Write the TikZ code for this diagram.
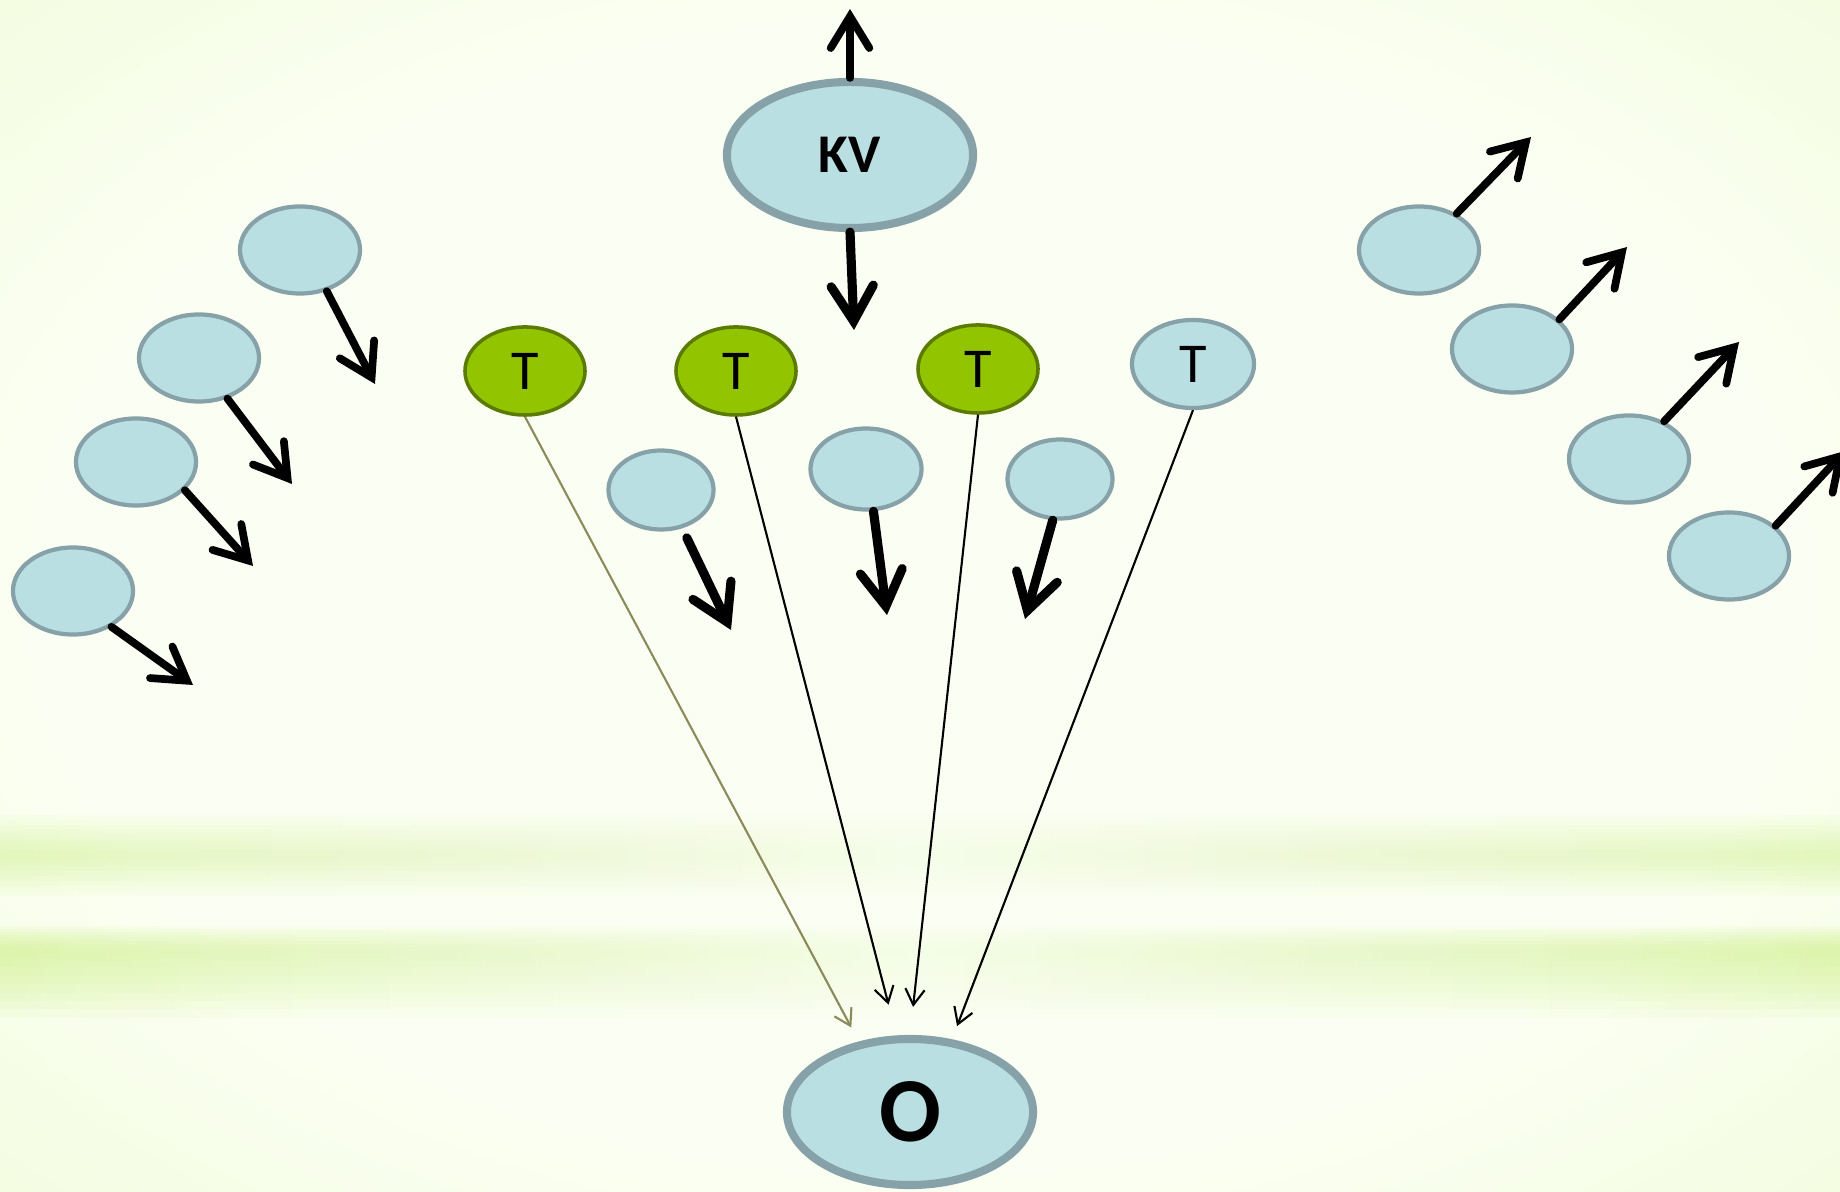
\documentclass[tikz,border=0pt]{standalone}
\usepackage{fontspec}
\setmainfont{Carlito}
\usepackage{tikz}
\usetikzlibrary{shapes.geometric,arrows.meta}

\definecolor{bgcenter}{HTML}{FBFFF3}
\definecolor{bgedge}{HTML}{DCF5A8}
\definecolor{bandgreen}{HTML}{CDF285}
\definecolor{blobfill}{HTML}{B9DFE3}
\definecolor{blobline}{HTML}{86A2A8}
\definecolor{tgreen}{HTML}{93C400}
\definecolor{tgreenline}{HTML}{5B7A00}
\definecolor{olivegray}{HTML}{8A8A5A}

\pgfdeclareradialshading{bgglow}{\pgfpoint{0bp}{0bp}}{color(0bp)=(bgcenter); color(24bp)=(bgcenter); color(72bp)=(bgedge); color(75bp)=(bgedge)}

\begin{document}
\begin{tikzpicture}[
		x=0.01cm, y=-0.01cm,
		blob/.style={ellipse,fill=blobfill,draw=blobline,line width=1.2pt,inner sep=0pt,minimum width=1.2cm,minimum height=0.87cm},
		small/.style={blob,minimum width=1.05cm,minimum height=0.79cm},
		big/.style={blob,line width=2.3pt,minimum width=2.46cm,minimum height=1.46cm},
		term/.style={blob,minimum width=1.22cm,minimum height=0.88cm,font=\fontsize{16}{18}\selectfont},
		hit/.style={term,fill=tgreen,draw=tgreenline,line width=1pt,minimum width=1.2cm},
		push/.style={line width=2.2pt,line cap=round,-{Straight Barb[length=9pt,width=11pt,line cap=round]}},
		plunge/.style={push,line width=2.6pt,-{Straight Barb[length=10pt,width=12pt,line cap=round]}},
		feed/.style={line width=0.6pt,-{Straight Barb[length=4.5pt,width=5.5pt]}},
		band/.style={left color=bandgreen,right color=bandgreen,middle color=bandgreen!15!bgcenter}
		]
		\useasboundingbox (0,0) rectangle (1840,1192);

		% background
		\shade[shading=bgglow] (0,0) rectangle (1840,1192);
		\foreach \d in {5,10,...,40}
			\shade[band,opacity=0.07] (0,855-\d) rectangle (1840,855+\d);
		\foreach \d in {6,12,...,48}
			\shade[band,opacity=0.1] (0,950-\d/2) rectangle (1840,950+\d*1.4);

		\path (850,155) node[big,font=\bfseries\fontsize{15.5}{18}\selectfont] (key val) {KV}
		 (910,1112) node[big,font=\bfseries\fontsize{26}{30}\selectfont] (out) {O};
		\coordinate (kv top) at (850,9);
		\coordinate (kv bottom) at (854,330);
		\draw[push] (key val.north) -- (kv top);
		\draw[plunge] (key val.south) -- (kv bottom);

		\path (525,371) node[hit] (term 1) {T}
		 ++(211,0) node[hit] (term 2) {T}
		 ++(242,-2) node[hit] (term 3) {T}
		 ++(215,-5) node[term] (term 4) {T};

		\path (661,490) node[small] (mid 1) {}
		 (866,469) node[small,minimum width=1.11cm,minimum height=0.81cm] (mid 2) {}
		 (1060,479) node[small] (mid 3) {};
		\coordinate (mid 1 end) at (731,630);
		\coordinate (mid 2 end) at (887,615);
		\coordinate (mid 3 end) at (1025,619);
		\draw[plunge,shorten <=3pt] (mid 1.-61) -- (mid 1 end);
		\draw[plunge] (mid 2.-80) -- (mid 2 end);
		\draw[plunge] (mid 3.-100) -- (mid 3 end);

		\path (300,250) node[blob] (left 1) {}
		 ++(-101,108) node[blob] (left 2) {}
		 ++(-63,104) node[blob] (left 3) {}
		 ++(-63,129) node[blob] (left 4) {};
		\coordinate (left 1 end) at (375,384);
		\coordinate (left 2 end) at (292,484);
		\coordinate (left 3 end) at (253,566);
		\coordinate (left 4 end) at (193,685);
		\draw[push] (left 1.-57) -- (left 1 end);
		\draw[push] (left 2.-55) -- (left 2 end);
		\draw[push] (left 3.-30) -- (left 3 end);
		\draw[push] (left 4.-43) -- (left 4 end);

		\path (1419,250) node[blob] (right 1) {}
		 ++(93,99) node[blob] (right 2) {}
		 ++(117,110) node[blob] (right 3) {}
		 ++(100,97) node[blob] (right 4) {};
		\coordinate (right 1 end) at (1531,137);
		\coordinate (right 2 end) at (1627,247);
		\coordinate (right 3 end) at (1739,342);
		\coordinate (right 4 end) at (1845,451);
		\draw[push] (right 1.44) -- (right 1 end);
		\draw[push] (right 2.32) -- (right 2 end);
		\draw[push] (right 3.47) -- (right 3 end);
		\draw[push] (right 4.33) -- (right 4 end);

		\draw[feed,draw=olivegray,shorten >=4.5pt] (term 1.south) -- (out.126);
		\draw[feed,shorten >=9pt] (term 2.south) -- (out.100);
		\draw[feed,shorten >=8pt] (term 3.south) -- (out.north);
		\draw[feed,shorten >=4pt] (term 4.south) -- (out.60);

	\end{tikzpicture}
\end{document}
